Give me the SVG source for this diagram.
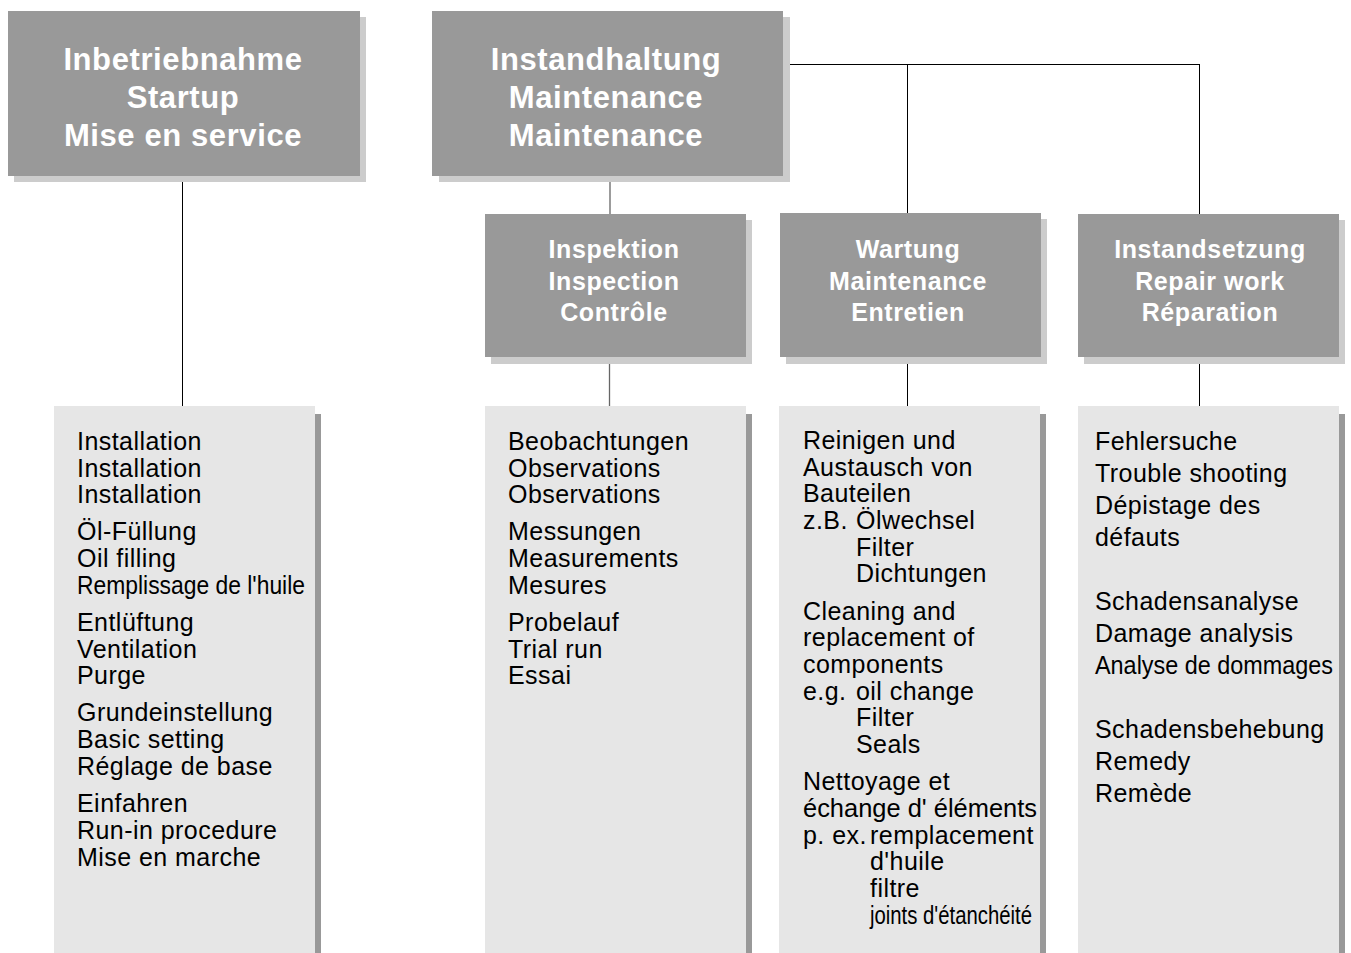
<svg xmlns="http://www.w3.org/2000/svg" width="1351" height="953" viewBox="0 0 1351 953">
<style>
.hd{fill:#999999}
.hs{fill:#cccccc}
.ls{fill:#e6e6e6}
.lsh{fill:#999999}
.t1{font-family:"Liberation Sans",Arial,sans-serif;font-weight:bold;font-size:31px;fill:#ffffff;text-anchor:middle;letter-spacing:0.6px}
.t2{font-family:"Liberation Sans",Arial,sans-serif;font-weight:bold;font-size:25px;fill:#ffffff;text-anchor:middle;letter-spacing:0.6px}
.tl{font-family:"Liberation Sans",Arial,sans-serif;font-size:25px;fill:#000000;letter-spacing:0.45px}
.fit{letter-spacing:0px}
.cn{stroke:#000000;stroke-width:1;fill:none}
.cg{stroke:#666666;stroke-width:1.3;fill:none}
</style>
<rect width="1351" height="953" fill="#ffffff"/>
<g id="connectors">
<line class="cn" x1="182.5" y1="181" x2="182.5" y2="406"/>
<line class="cg" x1="610" y1="181" x2="610" y2="214"/>
<line class="cn" x1="790" y1="64.5" x2="1199.5" y2="64.5"/>
<line class="cn" x1="907.5" y1="64" x2="907.5" y2="213"/>
<line class="cn" x1="1199.5" y1="64" x2="1199.5" y2="214"/>
<line class="cg" x1="609.5" y1="364" x2="609.5" y2="406"/>
<line class="cn" x1="907.5" y1="364" x2="907.5" y2="406"/>
<line class="cn" x1="1199.5" y1="364" x2="1199.5" y2="406"/>
</g>
<g id="startup">
<rect class="hs" x="14" y="17" width="352" height="165"/>
<rect class="hd" x="8" y="11" width="352" height="165"/>
<text class="t1" x="183" y="69.5">Inbetriebnahme</text>
<text class="t1" x="183" y="108">Startup</text>
<text class="t1" x="183" y="146">Mise en service</text>
</g>
<g id="maintenance">
<rect class="hs" x="439" y="17" width="351" height="165"/>
<rect class="hd" x="432" y="11" width="351" height="165"/>
<text class="t1" x="606" y="69.5">Instandhaltung</text>
<text class="t1" x="606" y="108">Maintenance</text>
<text class="t1" x="606" y="146">Maintenance</text>
</g>
<g id="inspection">
<rect class="hs" x="491" y="220" width="261" height="144"/>
<rect class="hd" x="485" y="214" width="261" height="143"/>
<text class="t2" x="614" y="258">Inspektion</text>
<text class="t2" x="614" y="290">Inspection</text>
<text class="t2" x="614" y="321">Contrôle</text>
</g>
<g id="servicing">
<rect class="hs" x="786" y="219" width="261" height="145"/>
<rect class="hd" x="780" y="213" width="261" height="144"/>
<text class="t2" x="908" y="258">Wartung</text>
<text class="t2" x="908" y="290">Maintenance</text>
<text class="t2" x="908" y="321">Entretien</text>
</g>
<g id="repair">
<rect class="hs" x="1084" y="220" width="261" height="144"/>
<rect class="hd" x="1078" y="214" width="261" height="143"/>
<text class="t2" x="1210" y="258">Instandsetzung</text>
<text class="t2" x="1210" y="290">Repair work</text>
<text class="t2" x="1210" y="321">Réparation</text>
</g>
<g id="startup-list">
<rect class="lsh" x="60" y="414" width="261" height="539"/>
<rect class="ls" x="54" y="406" width="261" height="547"/>
<text class="tl" x="77" y="450">Installation</text>
<text class="tl" x="77" y="476.5">Installation</text>
<text class="tl" x="77" y="503">Installation</text>
<text class="tl" x="77" y="540">Öl-Füllung</text>
<text class="tl" x="77" y="567">Oil filling</text>
<text class="tl fit" x="77" y="593.5" textLength="228" lengthAdjust="spacingAndGlyphs">Remplissage de l'huile</text>
<text class="tl" x="77" y="630.5">Entlüftung</text>
<text class="tl" x="77" y="657.5">Ventilation</text>
<text class="tl" x="77" y="684">Purge</text>
<text class="tl" x="77" y="721">Grundeinstellung</text>
<text class="tl" x="77" y="748">Basic setting</text>
<text class="tl" x="77" y="775">Réglage de base</text>
<text class="tl" x="77" y="811.5">Einfahren</text>
<text class="tl" x="77" y="838.5">Run-in procedure</text>
<text class="tl" x="77" y="865.5">Mise en marche</text>
</g>
<g id="inspection-list">
<rect class="lsh" x="491" y="414" width="261" height="539"/>
<rect class="ls" x="485" y="406" width="261" height="547"/>
<text class="tl" x="508" y="450">Beobachtungen</text>
<text class="tl" x="508" y="476.5">Observations</text>
<text class="tl" x="508" y="503">Observations</text>
<text class="tl" x="508" y="540">Messungen</text>
<text class="tl" x="508" y="567">Measurements</text>
<text class="tl" x="508" y="593.5">Mesures</text>
<text class="tl" x="508" y="630.5">Probelauf</text>
<text class="tl" x="508" y="657.5">Trial run</text>
<text class="tl" x="508" y="684">Essai</text>
</g>
<g id="servicing-list">
<rect class="lsh" x="785" y="414" width="261" height="539"/>
<rect class="ls" x="779" y="406" width="261" height="547"/>
<text class="tl" x="803" y="449">Reinigen und</text>
<text class="tl" x="803" y="475.5">Austausch von</text>
<text class="tl" x="803" y="502">Bauteilen</text>
<text class="tl" y="529"><tspan x="803">z.B.</tspan><tspan x="856">Ölwechsel</tspan></text>
<text class="tl" x="856" y="555.5">Filter</text>
<text class="tl" x="856" y="582">Dichtungen</text>
<text class="tl" x="803" y="619.5">Cleaning and</text>
<text class="tl" x="803" y="646">replacement of</text>
<text class="tl" x="803" y="673">components</text>
<text class="tl" y="699.5"><tspan x="803">e.g.</tspan><tspan x="856">oil change</tspan></text>
<text class="tl" x="856" y="726">Filter</text>
<text class="tl" x="856" y="753">Seals</text>
<text class="tl" x="803" y="790">Nettoyage et</text>
<text class="tl fit" x="803" y="816.5" textLength="234" lengthAdjust="spacingAndGlyphs">échange d' éléments</text>
<text class="tl" y="843.5"><tspan x="803">p. ex.</tspan><tspan x="870">remplacement</tspan></text>
<text class="tl" x="870" y="870">d'huile</text>
<text class="tl" x="870" y="897">filtre</text>
<text class="tl fit" x="870" y="923.5" textLength="162" lengthAdjust="spacingAndGlyphs">joints d'étanchéité</text>
</g>
<g id="repair-list">
<rect class="lsh" x="1084" y="414" width="261" height="539"/>
<rect class="ls" x="1078" y="406" width="261" height="547"/>
<text class="tl" x="1095" y="450">Fehlersuche</text>
<text class="tl" x="1095" y="482">Trouble shooting</text>
<text class="tl" x="1095" y="514">Dépistage des</text>
<text class="tl" x="1095" y="546">défauts</text>
<text class="tl" x="1095" y="610">Schadensanalyse</text>
<text class="tl" x="1095" y="642">Damage analysis</text>
<text class="tl fit" x="1095" y="674" textLength="238" lengthAdjust="spacingAndGlyphs">Analyse de dommages</text>
<text class="tl" x="1095" y="738">Schadensbehebung</text>
<text class="tl" x="1095" y="770">Remedy</text>
<text class="tl" x="1095" y="802">Remède</text>
</g>
</svg>
